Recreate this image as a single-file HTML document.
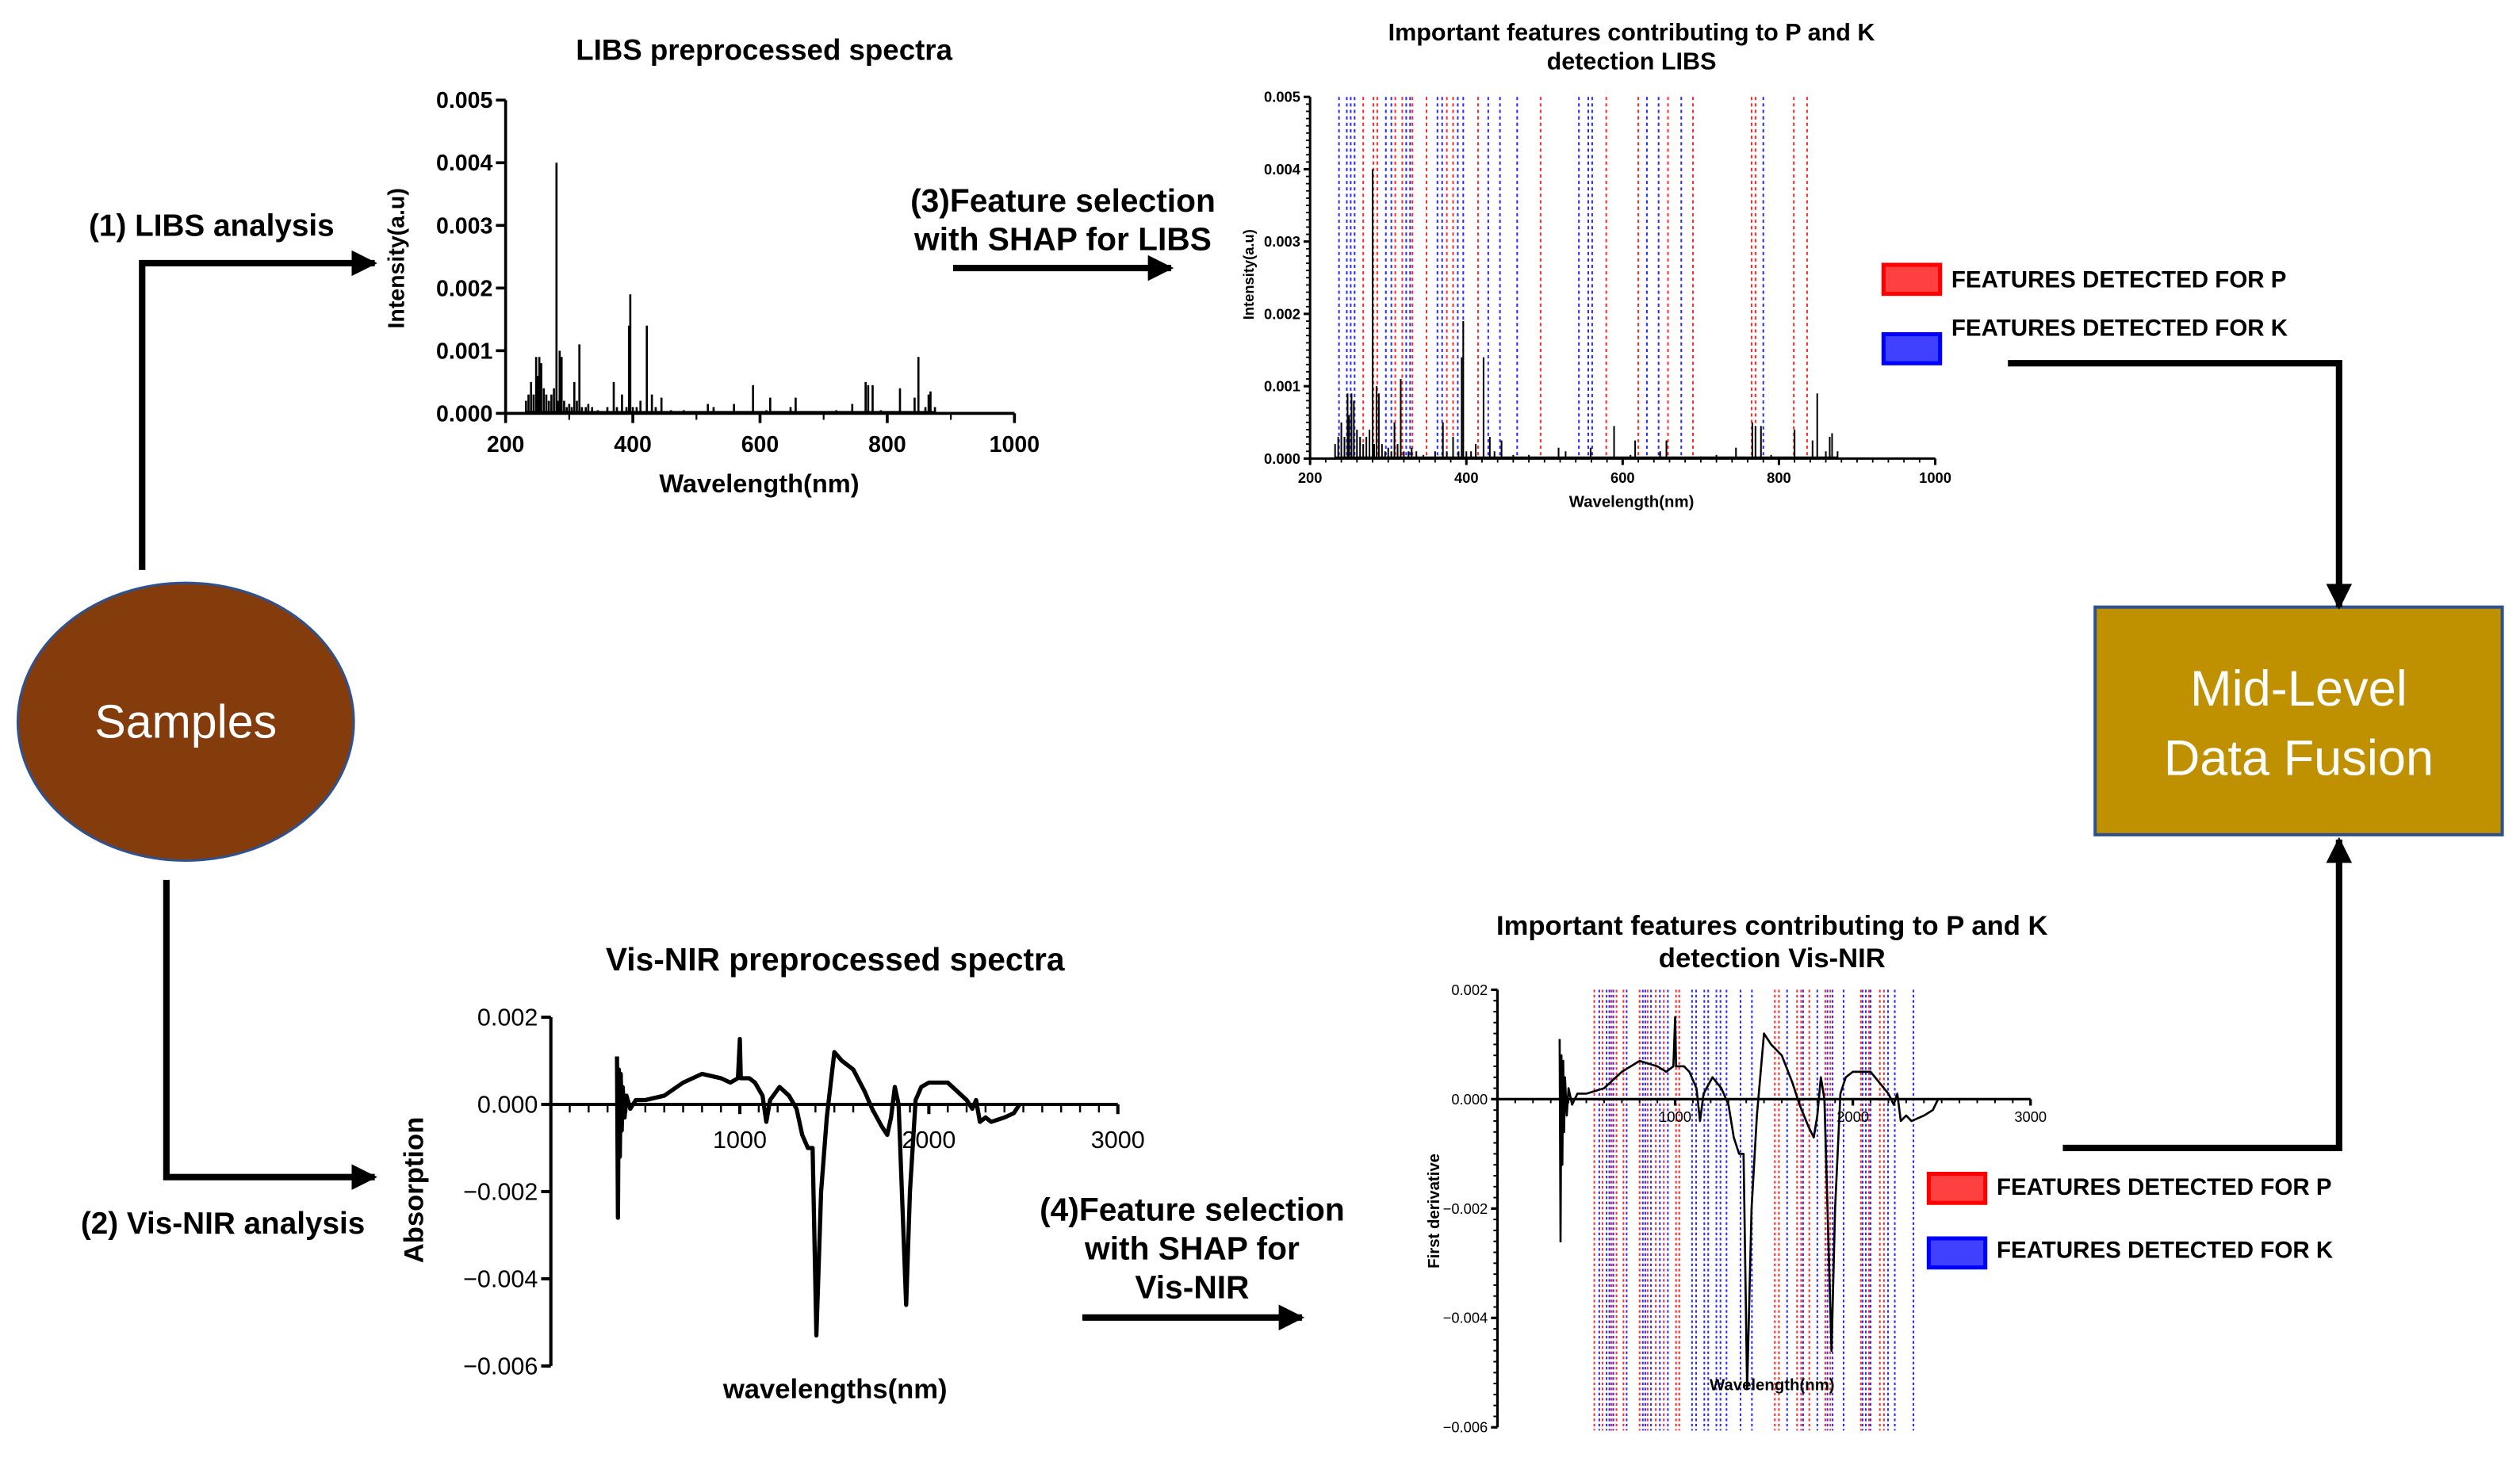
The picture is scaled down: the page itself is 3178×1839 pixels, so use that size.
<!DOCTYPE html>
<html><head><meta charset="utf-8">
<style>
html,body{margin:0;padding:0;background:#fff;}
svg{display:block;}
text{font-family:"Liberation Sans",sans-serif;}
</style></head>
<body>
<svg id="main" width="3178" height="1839" viewBox="0 0 1560 903" preserveAspectRatio="none" xmlns="http://www.w3.org/2000/svg">
<defs>
<marker id="ah" viewBox="0 0 10 10" refX="9" refY="5" markerWidth="4" markerHeight="4" orient="auto-start-reverse"><path d="M0,0 L10,5 L0,10 z" fill="#000"/></marker>
</defs>
<!-- Samples -->
<ellipse cx="115" cy="447" rx="104" ry="86" fill="#843c0c" stroke="#2f528f" stroke-width="1.5"/>
<text x="115" y="457" text-anchor="middle" fill="#fff" font-size="29">Samples</text>
<!-- Mid level box -->
<rect x="1297" y="376" width="252" height="141" fill="#bf9000" stroke="#2f528f" stroke-width="2"/>
<text x="1423" y="437" text-anchor="middle" fill="#fff" font-size="31">Mid-Level</text>
<text x="1423" y="480" text-anchor="middle" fill="#fff" font-size="31">Data Fusion</text>
<!-- arrows -->
<polyline points="88,353 88,163 232,163" fill="none" stroke="#000" stroke-width="4" marker-end="url(#ah)"/>
<text x="55" y="146" font-size="19" font-weight="bold">(1) LIBS analysis</text>
<polyline points="103,545 103,729 232,729" fill="none" stroke="#000" stroke-width="4" marker-end="url(#ah)"/>
<text x="50" y="764" font-size="19" font-weight="bold">(2) Vis-NIR analysis</text>
<line x1="590" y1="166" x2="725" y2="166" stroke="#000" stroke-width="4" marker-end="url(#ah)"/>
<text x="658" y="131" text-anchor="middle" font-size="20" font-weight="bold">(3)Feature selection</text>
<text x="658" y="155" text-anchor="middle" font-size="20" font-weight="bold">with SHAP for LIBS</text>
<line x1="670" y1="816" x2="806" y2="816" stroke="#000" stroke-width="4" marker-end="url(#ah)"/>
<text x="738" y="756" text-anchor="middle" font-size="20" font-weight="bold">(4)Feature selection</text>
<text x="738" y="780" text-anchor="middle" font-size="20" font-weight="bold">with SHAP for</text>
<text x="738" y="804" text-anchor="middle" font-size="20" font-weight="bold">Vis-NIR</text>
<polyline points="1243,225 1448,225 1448,376" fill="none" stroke="#000" stroke-width="4" marker-end="url(#ah)"/>
<polyline points="1277,711 1448,711 1448,520" fill="none" stroke="#000" stroke-width="4" marker-end="url(#ah)"/>
<!-- titles -->
<text x="473" y="37" text-anchor="middle" font-size="18" font-weight="bold">LIBS preprocessed spectra</text>
<text x="517" y="601" text-anchor="middle" font-size="20" font-weight="bold">Vis-NIR preprocessed spectra</text>
<text x="1010" y="25" text-anchor="middle" font-size="15" font-weight="bold">Important features contributing to P and K</text>
<text x="1010" y="43" text-anchor="middle" font-size="15" font-weight="bold">detection LIBS</text>
<text x="1097" y="579" text-anchor="middle" font-size="17" font-weight="bold">Important features contributing to P and K</text>
<text x="1097" y="599" text-anchor="middle" font-size="17" font-weight="bold">detection Vis-NIR</text>
<!-- legends -->
<rect x="1166" y="164" width="35" height="18" fill="#ff4040" stroke="#ff0000" stroke-width="2.5"/>
<text x="1208" y="178" font-size="14.5" font-weight="bold">FEATURES DETECTED FOR P</text>
<rect x="1166" y="207" width="35" height="18" fill="#4040ff" stroke="#0000ff" stroke-width="2.5"/>
<text x="1208" y="208" font-size="14.5" font-weight="bold">FEATURES DETECTED FOR K</text>
<rect x="1194" y="727" width="35" height="18" fill="#ff4040" stroke="#ff0000" stroke-width="2.5"/>
<text x="1236" y="740" font-size="14.5" font-weight="bold">FEATURES DETECTED FOR P</text>
<rect x="1194" y="767" width="35" height="18" fill="#4040ff" stroke="#0000ff" stroke-width="2.5"/>
<text x="1236" y="779" font-size="14.5" font-weight="bold">FEATURES DETECTED FOR K</text>
<g id="charts"></g>
</svg>
<script>
const libsWl=[232,236,240,244,248,250,253,256,260,264,268,272,276,280,282,285,288,292,296,300,304,308,312,316,320,326,330,336,345,360,370,375,383,390,394,396,400,406,412,422,430,436,445,460,480,518,527,559,589,610,616,648,656,700,720,745,766,770,777,790,820,843,849,860,865,868,875];
const libsInt=[0.0002,0.0003,0.0005,0.0003,0.0009,0.0006,0.0009,0.0008,0.0004,0.0003,0.0002,0.0003,0.0004,0.0040,0.0002,0.0010,0.0009,0.0002,0.0001,0.00015,0.0001,0.0005,0.0002,0.0011,0.0001,0.0001,0.00015,0.0001,0.00005,0.0001,0.0005,0.0001,0.0003,0.0001,0.0014,0.0019,0.0001,0.0001,0.0002,0.0014,0.0003,0.0001,0.00025,0.00005,0.00005,0.00015,0.0001,0.00015,0.00045,0.00005,0.00025,0.0001,0.00025,0.00003,0.00005,0.00015,0.0005,0.00045,0.00045,0.00005,0.0004,0.00025,0.0009,0.0001,0.0003,0.00035,0.0001];
const nirWl=[350,355,360,365,370,375,380,390,400,420,450,500,600,700,800,900,950,990,1000,1005,1050,1080,1120,1140,1160,1210,1260,1300,1330,1360,1385,1405,1430,1460,1500,1540,1600,1660,1700,1750,1780,1800,1820,1840,1880,1900,1930,1960,2000,2050,2100,2150,2200,2230,2250,2270,2300,2330,2400,2450,2480];
const nirVal=[0.0011,-0.0026,0.0008,-0.0012,0.0007,-0.0006,0.0004,-0.0003,0.0002,-0.0001,0.0001,0.0001,0.0002,0.0005,0.0007,0.0006,0.0005,0.0006,0.0015,0.0006,0.0006,0.0005,0.0002,-0.0004,0.0001,0.0004,0.0002,-0.0001,-0.0007,-0.0010,-0.0010,-0.0053,-0.0020,-0.0003,0.0012,0.0010,0.0008,0.0003,-0.0001,-0.0005,-0.0007,-0.0003,0.0004,0.0000,-0.0046,-0.0020,0.0001,0.0004,0.0005,0.0005,0.0005,0.0003,0.0001,-0.0001,0.0001,-0.0004,-0.0003,-0.0004,-0.0003,-0.0002,0.0000];
const libsPFeat=[268,281,286,309,318,331,349,375,383,415,495,579,620,658,690,765,770,819,836];
const libsKFeat=[237,247,252,257,297,304,323,328,363,369,389,396,428,443,465,544,556,561,631,646,675,780];
const nirPFeat=[545,591,641,670,709,800,845,891,936,1005,1023,1561,1584,1686,1709,1755,1845,1873,2045,2091,2152,2175];
const nirKFeat=[573,614,630,652,727,818,832,864,914,959,1095,1118,1164,1186,1232,1255,1289,1368,1432,1630,1720,1800,1857,1886,1948,2055,2073,2100,2198,2236,2341];
const libsXTicks=[200,400,600,800,1000];
const libsYTicks=[0,0.001,0.002,0.003,0.004,0.005];
const nirXTicks=[1000,2000,3000];
const nirYTicks=[0.002,0,-0.002,-0.004,-0.006];

const NS="http://www.w3.org/2000/svg";
const root=document.getElementById('charts');
function mk(tag,attrs,parent){const e=document.createElementNS(NS,tag);for(const k in attrs)e.setAttribute(k,attrs[k]);(parent||root).appendChild(e);return e;}
function lin(d0,d1,r0,r1){return v=>r0+(v-d0)/(d1-d0)*(r1-r0);}

function chart(c){
  const g=mk('g',{});
  
  
  const x=lin(c.xd[0],c.xd[1],c.xr[0],c.xr[1]);
  const y=lin(c.yd[0],c.yd[1],c.yr[0],c.yr[1]);
  const xAxisY=y(c.xAxisAt);
  // feature lines
  if(c.pFeat){
    c.pFeat.forEach(w=>{const l=mk('line',{x1:x(w),x2:x(w),y1:c.yr[1],y2:c.featBottom,stroke:'#ff2a2a','stroke-width':c.fw,'stroke-dasharray':c.dash},g);
      
      });
    c.kFeat.forEach(w=>{const l=mk('line',{x1:x(w),x2:x(w),y1:c.yr[1],y2:c.featBottom,stroke:'#2a2aff','stroke-width':c.fw,'stroke-dasharray':c.dash},g);
      
      });
  }
  // axes
  const ya=mk('line',{x1:c.xr[0],x2:c.xr[0],y1:c.yr[1],y2:c.yr[0],stroke:'#000','stroke-width':c.aw},g);
  
  
  const xa=mk('line',{x1:c.xr[0],x2:c.xr[1],y1:xAxisY,y2:xAxisY,stroke:'#000','stroke-width':c.aw},g);
  
  
  // minor ticks
  for(let v=c.xd[0];v<=c.xd[1]+1e-9;v+=c.xMinor){mk('line',{x1:x(v),x2:x(v),y1:xAxisY,y2:xAxisY+c.minorLen,stroke:'#000','stroke-width':c.aw*0.6},g);}
  for(let v=c.yd[0];v<=c.yd[1]+1e-12;v+=c.yMinor){mk('line',{x1:c.xr[0]-c.minorLen,x2:c.xr[0],y1:y(v),y2:y(v),stroke:'#000','stroke-width':c.aw*0.6},g);}
  c.xTicks.forEach(v=>{
    mk('line',{x1:x(v),x2:x(v),y1:xAxisY,y2:xAxisY+c.majorLen,stroke:'#000','stroke-width':c.aw},g);
    const t=mk('text',{x:x(v),y:xAxisY+c.xLabOff,'text-anchor':'middle','font-size':c.tfs,'font-weight':c.tfw},g);
    t.textContent=String(v);
    
    
  });
  c.yTicks.forEach(v=>{
    mk('line',{x1:c.xr[0]-c.majorLen,x2:c.xr[0],y1:y(v),y2:y(v),stroke:'#000','stroke-width':c.aw},g);
    const t=mk('text',{x:c.xr[0]-c.majorLen-2,y:y(v)+c.tfs*0.35,'text-anchor':'end','font-size':c.tfs,'font-weight':c.tfw,'font-family':c.yfont},g);
    t.textContent=(v<0?'\u2212':'')+Math.abs(v).toFixed(3);
    
    
  });
  // data
  if(c.type==='stick'){
    const base=mk('line',{x1:x(c.xs[0]),x2:x(c.xs[c.xs.length-1]),y1:y(0)-0.8,y2:y(0)-0.8,stroke:'#000','stroke-width':c.lw},g);
    
    
    c.xs.forEach((w,i)=>{const l=mk('line',{x1:x(w),x2:x(w),y1:y(0),y2:y(c.ys[i]),stroke:'#000','stroke-width':c.lw},g);
      
      });
  } else {
    const p=mk('polyline',{points:c.xs.map((w,i)=>x(w).toFixed(2)+','+y(c.ys[i]).toFixed(2)).join(' '),fill:'none',stroke:'#000','stroke-width':c.lw,'stroke-linejoin':'round'},g);
    
    
  }
  // titles
  const xt=mk('text',{x:c.xTitle[0],y:c.xTitle[1],'text-anchor':'middle','font-size':c.xTitle[2],'font-weight':'bold'},g);
  xt.textContent=c.xTitle[3];
  
  
  const yt=mk('text',{x:0,y:0,'text-anchor':'middle','font-size':c.yTitle[2],'font-weight':'bold',transform:`translate(${c.yTitle[0]},${c.yTitle[1]}) rotate(-90)`},g);
  yt.textContent=c.yTitle[3];
  
  
}

chart({name:'libs-spectrum-chart',type:'stick',xs:libsWl,ys:libsInt,xd:[200,1000],xr:[313,628],yd:[0,0.005],yr:[256,62],xAxisAt:0,
  xTicks:libsXTicks,yTicks:libsYTicks,xMinor:100,yMinor:0.001,minorLen:4,majorLen:6,aw:1.8,lw:1.3,tfs:14,tfw:'bold',yfont:'Liberation Sans',xLabOff:24,
  xTitle:[470,305,16,'Wavelength(nm)'],yTitle:[250,160,14,'Intensity(a.u)']});
chart({name:'libs-features-chart',type:'stick',xs:libsWl,ys:libsInt,xd:[200,1000],xr:[811,1198],yd:[0,0.005],yr:[284,60],xAxisAt:0,
  pFeat:libsPFeat,kFeat:libsKFeat,featBottom:284,fw:1,dash:'2 2',
  xTicks:libsXTicks,yTicks:libsYTicks,xMinor:20,yMinor:0.0001,minorLen:2.5,majorLen:4,aw:1.5,lw:1,tfs:9,tfw:'bold',yfont:'Liberation Sans',xLabOff:15,
  xTitle:[1010,314,10,'Wavelength(nm)'],yTitle:[776,170,9,'Intensity(a.u)']});
chart({name:'visnir-spectrum-chart',type:'line',xs:nirWl,ys:nirVal,xd:[0,3000],xr:[341,692],yd:[-0.006,0.002],yr:[846,630],xAxisAt:0,
  xTicks:nirXTicks,yTicks:nirYTicks,xMinor:100,yMinor:0.002,minorLen:5,majorLen:6,aw:2,lw:2.6,tfs:15,tfw:'normal',yfont:'Liberation Serif',xLabOff:27,
  xTitle:[517,866,17,'wavelengths(nm)'],yTitle:[262,737,17,'Absorption']});
chart({name:'visnir-features-chart',type:'line',xs:nirWl,ys:nirVal,xd:[0,3000],xr:[927,1257],yd:[-0.006,0.002],yr:[884,613],xAxisAt:0,
  pFeat:nirPFeat,kFeat:nirKFeat,featBottom:886,fw:1,dash:'1.6 1.6',
  xTicks:nirXTicks,yTicks:nirYTicks,xMinor:100,yMinor:0.0002,minorLen:2.5,majorLen:4,aw:1.6,lw:1.3,tfs:9,tfw:'normal',yfont:'Liberation Serif',xLabOff:14,
  xTitle:[1097,861,10,'Wavelength(nm)'],yTitle:[891,750,10,'First derivative']});
// override x tick labels font weight in feature NIR (bold in reference)
</script>
</body></html>
